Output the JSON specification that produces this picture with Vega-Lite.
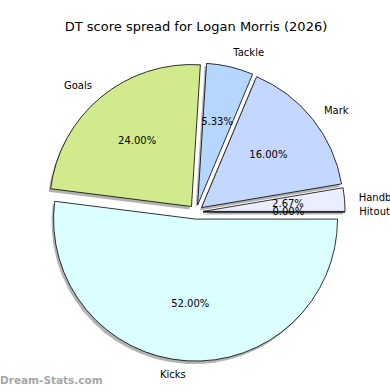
{
  "$schema": "https://vega.github.io/schema/vega-lite/v6.json",
  "padding": {"left": 0, "top": 20, "right": 0, "bottom": 0},
  "background": "white",
  "config": {"view": {"stroke": null}, "concat": {"spacing": 0}},
  "title": {"text": "Dream-Stats.com", "orient": "bottom", "anchor": "start", "frame": "group", "font": "DejaVu Sans", "fontSize": 10.5, "fontWeight": "bold", "color": "#a6a6a6", "offset": -4, "dx": -46},
  "vconcat": [
    {
      "title": {"text": "DT score spread for Logan Morris (2026)", "frame": "group", "font": "DejaVu Sans", "fontSize": 13, "fontWeight": "normal", "color": "#000000", "baseline": "alphabetic", "offset": 4.5},
      "width": 300,
      "height": 300,
      "data": {"values": [
        {"label": "Hitout", "value": 0},
        {"label": "Kicks", "value": 78},
        {"label": "Goals", "value": 36},
        {"label": "Tackle", "value": 8},
        {"label": "Mark", "value": 24},
        {"label": "Handball", "value": 4}
      ]},
      "transform": [{"stack": "value", "groupby": [], "offset": "normalize", "as": ["v0", "v1"]}],
      "layer": [
        {
          "mark": {"type": "arc", "radius": 142, "fill": "#808080", "opacity": 0.6,
                   "xOffset": {"expr": "7.1*sin(PI/2+PI*(datum.v0+datum.v1)) - 2"},
                   "yOffset": {"expr": "-7.1*cos(PI/2+PI*(datum.v0+datum.v1)) + 3"}},
          "encoding": {
            "theta": {"field": "v0", "type": "quantitative", "scale": {"domain": [0, 1], "range": [1.5707963, 7.8539816]}},
            "theta2": {"field": "v1"}
          }
        },
        {
          "mark": {"type": "arc", "radius": 142, "stroke": "#000000", "strokeWidth": 0.8,
                   "xOffset": {"expr": "7.1*sin(PI/2+PI*(datum.v0+datum.v1))"},
                   "yOffset": {"expr": "-7.1*cos(PI/2+PI*(datum.v0+datum.v1))"}},
          "encoding": {
            "theta": {"field": "v0", "type": "quantitative"},
            "theta2": {"field": "v1"},
            "fill": {"field": "label", "type": "nominal", "legend": null,
                     "scale": {"domain": ["Kicks", "Goals", "Tackle", "Mark", "Handball", "Hitout"],
                               "range": ["#dbffff", "#d0ea8c", "#b4d6ff", "#c4d8ff", "#e9efff", "#f0f0ff"]}}
          }
        },
        {
          "transform": [{"filter": "cos(PI*(datum.v0+datum.v1)) >= 0"}],
          "mark": {"type": "text", "radius": 163.3, "theta": {"expr": "PI/2+PI*(datum.v0+datum.v1)"}, "align": "left", "baseline": "middle", "font": "DejaVu Sans", "fontSize": 10, "color": "#000000"},
          "encoding": {"text": {"field": "label"}}
        },
        {
          "transform": [{"filter": "cos(PI*(datum.v0+datum.v1)) < 0"}],
          "mark": {"type": "text", "radius": 163.3, "theta": {"expr": "PI/2+PI*(datum.v0+datum.v1)"}, "align": "right", "baseline": "middle", "font": "DejaVu Sans", "fontSize": 10, "color": "#000000"},
          "encoding": {"text": {"field": "label"}}
        },
        {
          "mark": {"type": "text", "radius": 92.3, "theta": {"expr": "PI/2+PI*(datum.v0+datum.v1)"}, "align": "center", "baseline": "middle", "font": "DejaVu Sans", "fontSize": 10, "color": "#000000",
                   "text": {"expr": "format(datum.v1-datum.v0, '.2%')"}},
          "encoding": {}
        }
      ]
    }
  ]
}
